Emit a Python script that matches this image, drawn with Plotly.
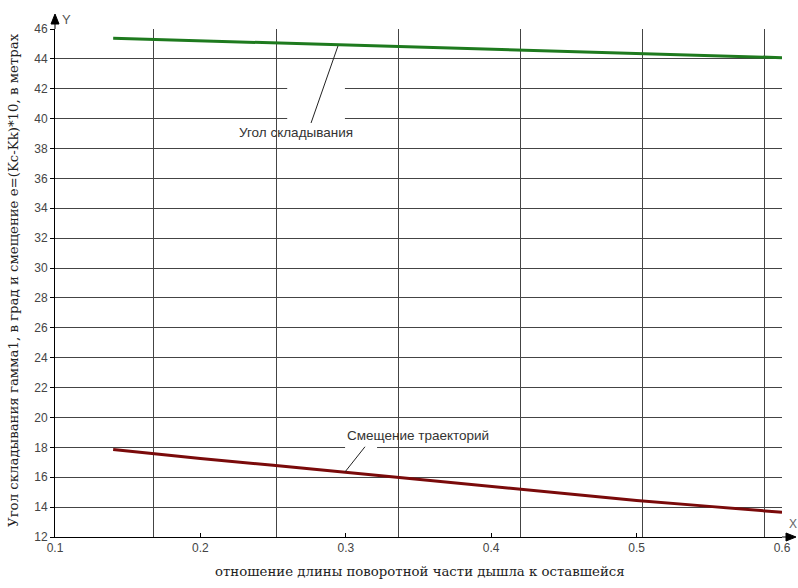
import plotly.graph_objects as go

# ---- data ----
x_vals = [0.14, 0.2, 0.25, 0.3, 0.35, 0.4, 0.45, 0.5, 0.55, 0.6]
gamma_vals = [45.38, 45.21, 45.07, 44.93, 44.79, 44.64, 44.50, 44.36, 44.22, 44.08]
shift_vals = [17.85, 17.25, 16.8, 16.32, 15.85, 15.37, 14.88, 14.45, 14.05, 13.65]
x_ticks = [0.1, 0.2, 0.3, 0.4, 0.5, 0.6]
x_tick_text = ["0.1", "0.2", "0.3", "0.4", "0.5", "0.6"]
y_ticks = list(range(12, 47, 2))
label_gamma = "Угол складывания"
label_shift = "Смещение траекторий"
x_title = "отношение длины поворотной части дышла к оставшейся"
y_title = "Угол складывания гамма1, в град и смещение e=(Kc-Kk)*10, в метрах"

fig = go.Figure()
fig.add_trace(go.Scatter(x=x_vals, y=gamma_vals, mode="lines",
                         line=dict(color="#1e7a1e", width=3), showlegend=False))
fig.add_trace(go.Scatter(x=x_vals, y=shift_vals, mode="lines",
                         line=dict(color="#7a0a0a", width=3), showlegend=False))

tick_font = dict(family="Liberation Sans, Arial, sans-serif", size=12, color="#444")
serif = dict(family="DejaVu Serif, serif", size=13.3, color="#222")

fig.update_layout(
    width=798, height=588,
    margin=dict(l=55, r=16, t=29, b=51),
    paper_bgcolor="white", plot_bgcolor="white",
    xaxis=dict(range=[0.1, 0.6], tickvals=x_ticks, ticktext=x_tick_text,
               showgrid=False, zeroline=False, automargin=False,
               showline=True, linecolor="black", linewidth=1,
               ticks="inside", ticklen=4, tickcolor="black",
               tickfont=tick_font,
               minor=dict(tick0=0, dtick=0.084, showgrid=True,
                          gridcolor="#444", gridwidth=1, ticks="")),
    yaxis=dict(range=[12, 46], tickvals=y_ticks, automargin=False,
               showgrid=True, gridcolor="#444", gridwidth=1, zeroline=False,
               showline=True, linecolor="black", linewidth=1,
               ticks="outside", ticklen=4, tickcolor="black",
               tickfont=tick_font),
)

# axis titles
fig.add_annotation(x=0.502, y=0, xref="paper", yref="paper", text=x_title,
                   showarrow=False, xanchor="center", yanchor="middle", yshift=-34, font=serif)
fig.add_annotation(x=0, y=0.506, xref="paper", yref="paper", text=y_title,
                   showarrow=False, textangle=-90, xanchor="center", yanchor="middle",
                   xshift=-41, font=serif)

# white gaps in the grid around leader lines
fig.add_shape(type="rect", xref="x", yref="y", x0=0.2597, x1=0.2994, y0=39.7, y1=42.3,
              fillcolor="white", line_width=0, layer="above")
fig.add_shape(type="rect", xref="x", yref="y", x0=0.2995, x1=0.3215, y0=17.6, y1=18.4,
              fillcolor="white", line_width=0, layer="above")

# leader lines
fig.add_shape(type="line", xref="x", yref="y", x0=0.2761, y0=39.71, x1=0.2946, y1=44.86,
              line=dict(color="#222", width=1), layer="above")
fig.add_shape(type="line", xref="x", yref="y", x0=0.3132, y0=18.04, x1=0.2995, y1=16.36,
              line=dict(color="#222", width=1), layer="above")

ann_font = dict(family="Liberation Sans, Arial, sans-serif", size=13.5, color="#333")
fig.add_annotation(x=0.2657, y=39.04, xref="x", yref="y", text=label_gamma,
                   showarrow=False, xanchor="center", yanchor="middle", font=ann_font)
fig.add_annotation(x=0.3497, y=18.82, xref="x", yref="y", text=label_shift,
                   showarrow=False, xanchor="center", yanchor="middle", font=ann_font)

# axis arrows
fig.add_shape(type="path", xref="paper", yref="paper", xsizemode="pixel", ysizemode="pixel",
              xanchor=0, yanchor=1, path="M 0,0 L 0,5 M -4,5 L 4,5 L 0,15 Z",
              fillcolor="black", line=dict(color="black", width=1), layer="above")
fig.add_shape(type="path", xref="paper", yref="paper", xsizemode="pixel", ysizemode="pixel",
              xanchor=1, yanchor=0, path="M 0,0 L 4,0 M 4,-4 L 4,4 L 14,0 Z",
              fillcolor="black", line=dict(color="black", width=1), layer="above")
fig.add_annotation(x=1, y=0, xref="paper", yref="paper", text="X", xshift=11, yshift=13,
                   xanchor="center", yanchor="middle",
                   showarrow=False, font=dict(family="Liberation Sans, Arial", size=12, color="#666"))
fig.add_annotation(x=0, y=1, xref="paper", yref="paper", text="Y", xshift=11, yshift=10,
                   xanchor="center", yanchor="middle",
                   showarrow=False, font=dict(family="Liberation Sans, Arial", size=13, color="#555"))

fig.write_html("out.html", config={"displayModeBar": False},
               post_script="document.body.style.margin='0';document.body.style.overflow='hidden';")
